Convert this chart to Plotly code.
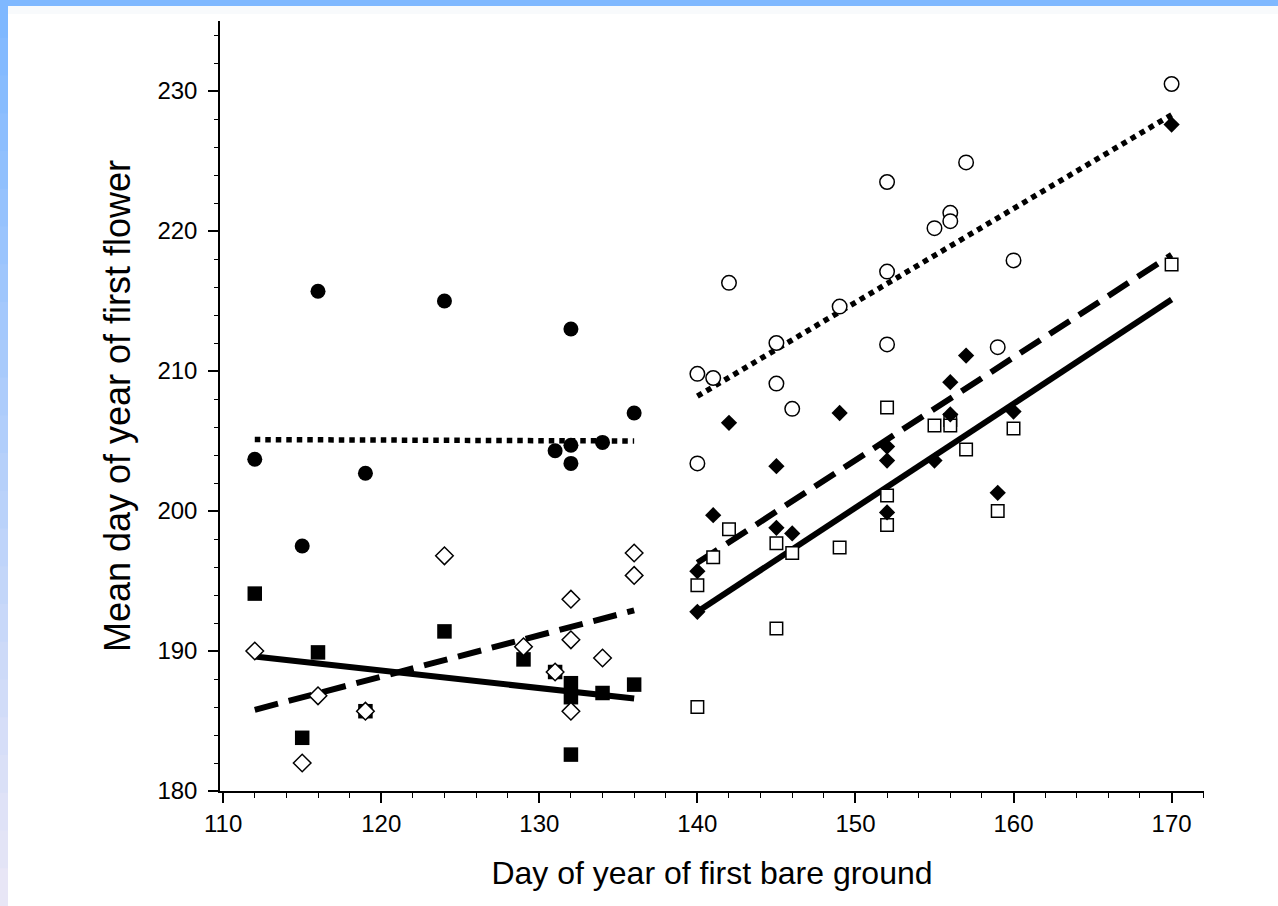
import plotly.graph_objects as go

# ---------------- data ----------------
# Early-melt group (left), filled circles
circ_f_x = [112, 115, 116, 119, 124, 131, 132, 132, 132, 134, 136]
circ_f_y = [203.7, 197.5, 215.7, 202.7, 215.0, 204.3, 213.0, 204.7, 203.4, 204.9, 207.0]
# filled squares
sq_f_x = [112, 115, 116, 119, 124, 129, 131, 132, 132, 132, 134, 136]
sq_f_y = [194.1, 183.8, 189.9, 185.7, 191.4, 189.4, 188.5, 187.7, 186.7, 182.6, 187.0, 187.6]
# open diamonds
dia_o_x = [112, 115, 116, 119, 124, 129, 131, 132, 132, 132, 134, 136, 136]
dia_o_y = [190.0, 182.0, 186.8, 185.7, 196.8, 190.3, 188.5, 193.7, 190.8, 185.7, 189.5, 197.0, 195.4]

# Late-melt group (right), open circles
circ_o_x = [140, 140, 141, 142, 145, 145, 146, 149, 152, 152, 152, 155, 156, 156, 157, 159, 160, 170]
circ_o_y = [209.8, 203.4, 209.5, 216.3, 212.0, 209.1, 207.3, 214.6, 223.5, 217.1, 211.9,
            220.2, 221.3, 220.7, 224.9, 211.7, 217.9, 230.5]
# filled diamonds
dia_f_x = [140, 140, 141, 142, 145, 145, 146, 149, 152, 152, 152, 155, 156, 156, 157, 159, 160, 170]
dia_f_y = [195.7, 192.8, 199.7, 206.3, 203.2, 198.8, 198.4, 207.0, 204.6, 203.6, 199.9,
           203.6, 209.2, 206.9, 211.1, 201.3, 207.1, 227.6]
# open squares
sq_o_x = [140, 140, 141, 142, 145, 145, 146, 149, 152, 152, 152, 155, 156, 156, 157, 159, 160, 170]
sq_o_y = [194.7, 186.0, 196.7, 198.7, 197.7, 191.6, 197.0, 197.4, 207.4, 201.1, 199.0,
          206.1, 206.5, 206.1, 204.4, 200.0, 205.9, 217.6]

# fitted regression lines (end points)
fit_left_x = [112, 136]
fit_circ_f_y = [205.1, 205.0]
fit_sq_f_y = [189.6, 186.6]
fit_dia_o_y = [185.8, 192.9]
fit_right_x = [140, 170]
fit_circ_o_y = [208.2, 228.3]
fit_dia_f_y = [196.3, 218.3]
fit_sq_o_y = [192.8, 215.1]

x_title = "Day of year of first bare ground"
y_title = "Mean day of year of first flower"

# ---------------- figure ----------------
W, H = 1278, 906
ML, MR, MT, MB = 220, 74, 21, 115
PW, PH = W - ML - MR, H - MT - MB

fig = go.Figure()

DOT = "5.5px,5px"
DASH = "24px,11px"

def line(x, y, dash, w):
    fig.add_trace(go.Scatter(x=x, y=y, mode="lines",
                             line=dict(color="black", width=w, dash=dash),
                             hoverinfo="skip", showlegend=False))

line(fit_left_x, fit_circ_f_y, DOT, 5.5)
line(fit_left_x, fit_sq_f_y, "solid", 6)
line(fit_left_x, fit_dia_o_y, DASH, 6)
line(fit_right_x, fit_circ_o_y, DOT, 5.5)
line(fit_right_x, fit_dia_f_y, DASH, 6)
line(fit_right_x, fit_sq_o_y, "solid", 6)

def pts(x, y, symbol, size, fill, lw):
    fig.add_trace(go.Scatter(x=x, y=y, mode="markers",
                             marker=dict(symbol=symbol, size=size, color=fill,
                                         line=dict(color="black", width=lw)),
                             showlegend=False))

pts(circ_f_x, circ_f_y, "circle", 15, "black", 0)
pts(sq_f_x, sq_f_y, "square", 14.5, "black", 0)
pts(dia_o_x, dia_o_y, "diamond", 13.5, "white", 1.5)
pts(circ_o_x, circ_o_y, "circle", 14.5, "white", 1.5)
pts(sq_o_x, sq_o_y, "square", 12.5, "white", 1.5)
pts(dia_f_x, dia_f_y, "diamond", 12.5, "black", 0)

# decorative blue frame of the screenshot (top band + left gradient band)
shapes = []
def px2paper_x(px):
    return (px - ML) / PW
def px2paper_y(py):
    return 1 - (py - MT) / PH

shapes.append(dict(type="rect", xref="paper", yref="paper",
                   x0=px2paper_x(0), x1=px2paper_x(W), y0=px2paper_y(6), y1=px2paper_y(0),
                   fillcolor="#7fb8ff", line=dict(width=0), layer="below"))
shapes.append(dict(type="rect", xref="paper", yref="paper",
                   x0=px2paper_x(8), x1=px2paper_x(W), y0=px2paper_y(14), y1=px2paper_y(6),
                   fillcolor="#f8fafc", line=dict(width=0), layer="below"))
steps = 24
c0 = (0x7f, 0xb8, 0xff)
c1 = (0xe8, 0xe6, 0xf6)
for i in range(steps):
    t = i / (steps - 1)
    c = tuple(round(c0[k] + (c1[k] - c0[k]) * t) for k in range(3))
    y0p = i * H / steps
    y1p = (i + 1) * H / steps + 1
    shapes.append(dict(type="rect", xref="paper", yref="paper",
                       x0=px2paper_x(0), x1=px2paper_x(8),
                       y0=px2paper_y(y1p), y1=px2paper_y(y0p),
                       fillcolor="rgb(%d,%d,%d)" % c, line=dict(width=0), layer="below"))

FONT = "Liberation Sans, Arial, sans-serif"

fig.update_layout(
    width=W, height=H,
    margin=dict(l=ML, r=MR, t=MT, b=MB, autoexpand=False),
    paper_bgcolor="white", plot_bgcolor="white",
    font=dict(family=FONT, color="black"),
    shapes=shapes,
    xaxis=dict(range=[109.8, 172.05], tick0=110, dtick=10,
               showline=True, linecolor="black", linewidth=1.5,
               ticks="outside", ticklen=10, tickwidth=1.5, tickcolor="black",
               minor=dict(dtick=2, tick0=110, ticks="outside", ticklen=5, tickwidth=1.2, tickcolor="black"),
               showgrid=False, zeroline=False,
               tickfont=dict(size=24, family=FONT),
               title=dict(text=x_title, font=dict(size=32, family=FONT), standoff=26),
               automargin=False, fixedrange=True),
    yaxis=dict(range=[180, 235], tick0=180, dtick=10,
               showline=True, linecolor="black", linewidth=1.5,
               ticks="outside", ticklen=10, tickwidth=1.5, tickcolor="black",
               minor=dict(dtick=2, tick0=180, ticks="outside", ticklen=4, tickwidth=1.2, tickcolor="black"),
               showgrid=False, zeroline=False,
               tickfont=dict(size=24, family=FONT),
               ticklabelstandoff=6,
               title=dict(text=y_title, font=dict(size=36, family=FONT), standoff=16),
               automargin=False, fixedrange=True),
)

fig.write_html("out.html", config={"displayModeBar": False},
               post_script="document.body.style.margin='0';document.body.style.overflow='hidden';")
